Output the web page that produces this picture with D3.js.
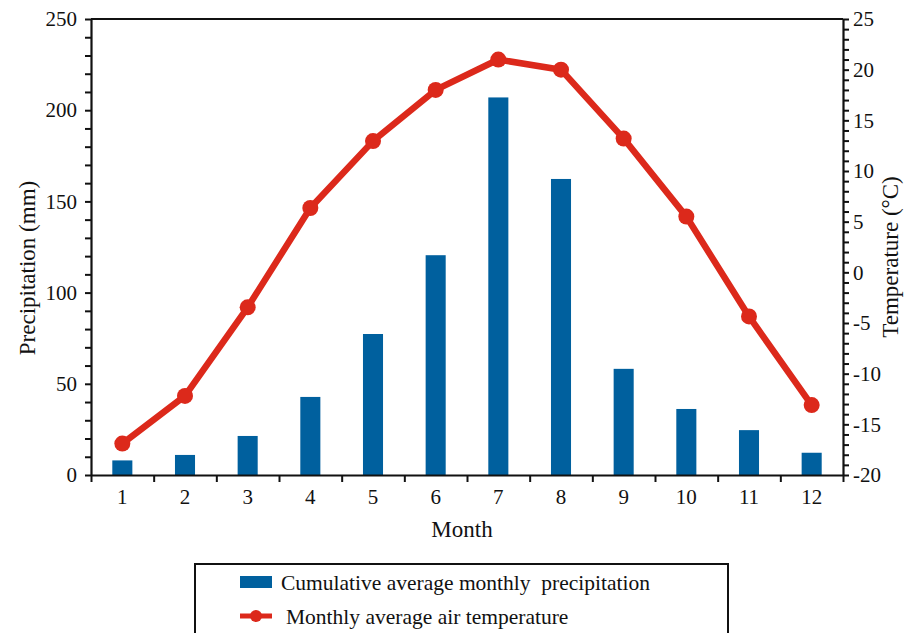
<!DOCTYPE html>
<html>
<head>
<meta charset="utf-8">
<script src="https://cdn.jsdelivr.net/npm/d3@7"></script>
<style>
  html, body { margin: 0; padding: 0; background: #fff; }
  svg { display: block; }
</style>
</head>
<body>
<svg id="chart" width="917" height="633"></svg>
<script>
// Monthly climate data
const months = ["1", "2", "3", "4", "5", "6", "7", "8", "9", "10", "11", "12"];
const precipitation = [8, 11, 21.4, 42.8, 77.3, 120.5, 207, 162.3, 58.2, 36.2, 24.6, 12.2];
const temperature = [-16.9, -12.2, -3.45, 6.35, 12.95, 18.0, 21.0, 20.0, 13.2, 5.5, -4.35, -13.1];
const precipTicks = [0, 50, 100, 150, 200, 250];
const tempTicks = [-20, -15, -10, -5, 0, 5, 10, 15, 20, 25];

const FONT = "Liberation Serif";
const svg = d3.select("#chart");
const m = { left: 91, right: 843, top: 19, bottom: 475 };
const blue = "#00609e";
const red = "#dc291b";

const x = d3.scaleBand().domain(months).range([m.left, m.right])
  .paddingInner(0.68).paddingOuter(0.34);
const xEdge = d3.scaleLinear().domain([0, 12]).range([m.left, m.right]);
const yP = d3.scaleLinear().domain([0, 250]).range([m.bottom, m.top]);
const yT = d3.scaleLinear().domain([-20, 25]).range([m.bottom, m.top]);

// Bars: precipitation
svg.append("g").selectAll("rect").data(precipitation).join("rect")
  .attr("x", (d, i) => x(months[i]))
  .attr("y", d => yP(d))
  .attr("width", x.bandwidth())
  .attr("height", d => yP(0) - yP(d))
  .attr("fill", blue);

// Axis styling helper
function style(g) {
  g.attr("font-family", FONT).attr("font-size", 21);
  g.selectAll(".domain").attr("stroke", "#111").attr("stroke-width", 2.2);
  g.selectAll(".tick line").attr("stroke", "#111").attr("stroke-width", 2);
  g.selectAll(".tick text").attr("fill", "#111");
}

// Top frame line
svg.append("line")
  .attr("x1", m.left).attr("x2", m.right).attr("y1", m.top).attr("y2", m.top)
  .attr("stroke", "#111").attr("stroke-width", 2.2);

// Left axis: minor ticks every 10 mm, labels every 50
svg.append("g").attr("transform", `translate(${m.left},0)`)
  .call(d3.axisLeft(yP).tickValues(d3.range(0, 251, 10)).tickSize(6).tickSizeOuter(0)
    .tickPadding(8)
    .tickFormat(d => precipTicks.includes(d) ? d : ""))
  .call(style);

// Right axis: minor ticks every 1 °C, labels every 5
svg.append("g").attr("transform", `translate(${m.right},0)`)
  .call(d3.axisRight(yT).tickValues(d3.range(-20, 26, 1)).tickSize(6).tickSizeOuter(0)
    .tickPadding(4)
    .tickFormat(d => tempTicks.includes(d) ? d : ""))
  .call(style);

// Bottom axis: ticks at month boundaries
svg.append("g").attr("transform", `translate(0,${m.bottom})`)
  .call(d3.axisBottom(xEdge).tickValues(d3.range(0, 13)).tickSize(7).tickSizeOuter(0)
    .tickFormat(""))
  .call(style);

// Month labels centred on each band
svg.append("g").attr("transform", `translate(0,${m.bottom})`)
  .call(d3.axisBottom(x).tickSize(0).tickPadding(14))
  .call(style)
  .call(g => g.select(".domain").remove());

// Temperature line and markers
const line = d3.line().x((d, i) => x(months[i]) + x.bandwidth() / 2).y(d => yT(d));
svg.append("path").datum(temperature)
  .attr("d", line).attr("fill", "none")
  .attr("stroke", red).attr("stroke-width", 6.5).attr("stroke-linejoin", "round");
svg.append("g").selectAll("circle").data(temperature).join("circle")
  .attr("cx", (d, i) => x(months[i]) + x.bandwidth() / 2)
  .attr("cy", d => yT(d))
  .attr("r", 8)
  .attr("fill", red);

// Axis titles
svg.append("text")
  .attr("font-family", FONT).attr("font-size", 23).attr("fill", "#111")
  .attr("transform", "translate(35,268) rotate(-90)")
  .attr("text-anchor", "middle")
  .text("Precipitation (mm)");
svg.append("text")
  .attr("font-family", FONT).attr("font-size", 23).attr("fill", "#111")
  .attr("transform", "translate(898,257) rotate(-90)")
  .attr("text-anchor", "middle")
  .text("Temperature (°C)");
svg.append("text")
  .attr("font-family", FONT).attr("font-size", 23).attr("fill", "#111")
  .attr("x", 462).attr("y", 537)
  .attr("text-anchor", "middle")
  .text("Month");

// Legend
const lg = svg.append("g").attr("font-family", FONT).attr("font-size", 21.5).attr("fill", "#111");
lg.append("rect")
  .attr("x", 195).attr("y", 564).attr("width", 533).attr("height", 90)
  .attr("fill", "none").attr("stroke", "#111").attr("stroke-width", 2);
lg.append("rect")
  .attr("x", 240).attr("y", 576).attr("width", 32).attr("height", 12)
  .attr("fill", blue);
lg.append("text")
  .attr("x", 281).attr("y", 590)
  .attr("xml:space", "preserve")
  .text("Cumulative average monthly  precipitation");
lg.append("line")
  .attr("x1", 240).attr("x2", 272).attr("y1", 616).attr("y2", 616)
  .attr("stroke", red).attr("stroke-width", 5);
lg.append("circle")
  .attr("cx", 256).attr("cy", 616).attr("r", 6).attr("fill", red);
lg.append("text")
  .attr("x", 286).attr("y", 624)
  .text("Monthly average air temperature");
</script>
</body>
</html>
